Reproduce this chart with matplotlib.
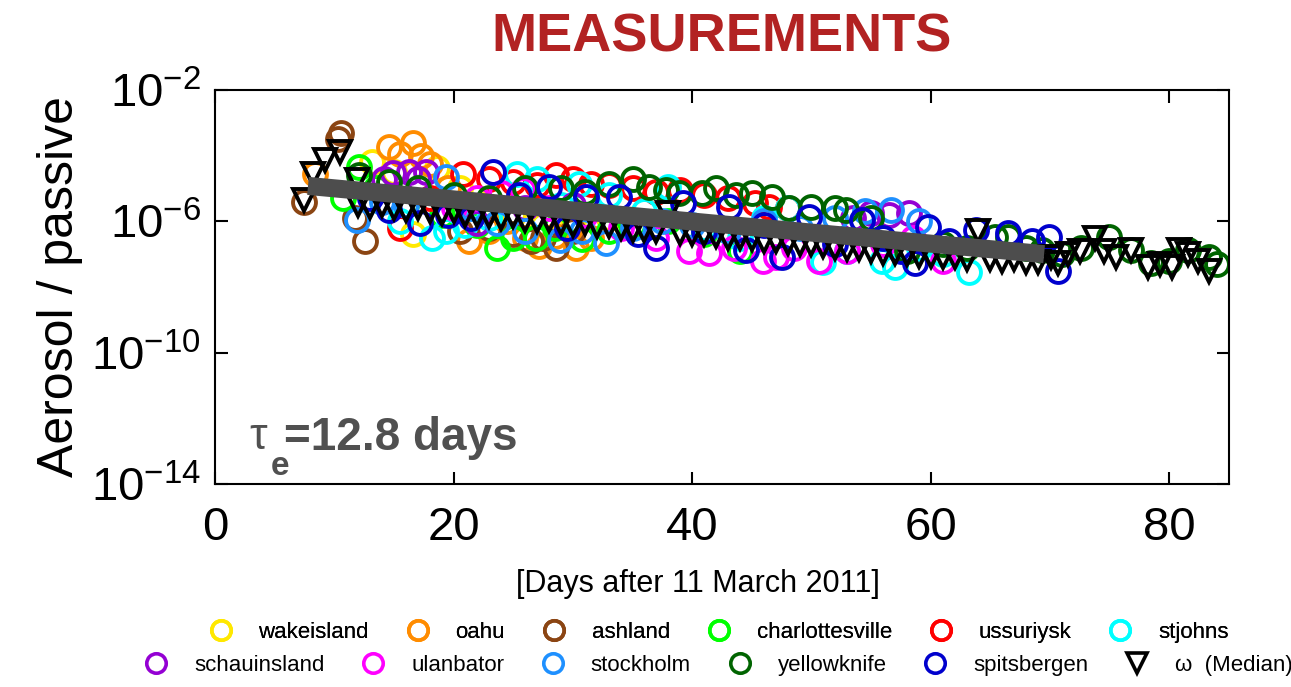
import numpy as np
import matplotlib.pyplot as plt
from matplotlib.lines import Line2D

plt.rcParams['font.family'] = ['Liberation Sans', 'DejaVu Sans']
plt.rcParams['mathtext.fontset'] = 'custom'
plt.rcParams['mathtext.rm'] = 'Liberation Sans'

# station data: days after 11 March 2011 and log10(aerosol / passive)
wake_d = [13.2, 15, 16.6, 18.6, 20.5, 22.5, 25, 27.5, 30, 33]
wake_v = [-4.2, -4.5, -6.4, -4.38, -5.0, -5.5, -5.8, -6.1, -6.0, -5.9]

oahu_d = [8.4, 14.6, 15.5, 16.6, 17.3, 18.0, 19.5, 21.3, 23, 24.5, 26, 27.2, 28.5, 30.3, 31.5]
oahu_v = [-4.55, -3.75, -3.95, -3.6, -4.0, -4.25, -5.0, -6.6, -6.3, -6.0, -6.5, -6.75, -6.45, -6.8, -6.5]

ashl_d = [7.5, 10.3, 10.6, 11.7, 12.6, 20.5, 23, 25, 26.5, 27.5, 28.6, 30]
ashl_v = [-5.4, -3.5, -3.3, -5.9, -6.6, -6.3, -6.2, -6.4, -6.6, -6.5, -6.8, -6.3]

char_d = [10.7, 12.1, 13.5, 16, 19, 22, 23.6, 25, 26.9, 28.5, 30.8, 33, 35, 38, 41, 44]
char_v = [-5.3, -4.35, -5.0, -5.5, -5.8, -6.1, -6.8, -6.5, -6.5, -6.2, -6.55, -6.3, -6.1, -6.0, -6.4, -6.9]

ussu_d = [15.5, 18, 20.8, 23, 25, 27, 28.6, 30, 31.5, 33, 35, 37, 39, 41, 43, 45.3, 46.4, 48]
ussu_v = [-6.2, -5.3, -4.55, -4.7, -4.8, -4.9, -4.6, -4.7, -4.85, -4.9, -5.0, -5.1, -5.05, -5.2, -5.3, -5.45, -5.57, -5.6]

stjo_d = [15.5, 18.2, 19.4, 21, 23, 25.3, 27, 29, 30.5, 33, 36, 38, 41, 44, 46, 48, 51, 53, 55.9, 57, 59, 61, 63.2]
stjo_v = [-6.0, -6.5, -6.3, -6.1, -5.9, -4.55, -4.7, -5.5, -4.85, -5.2, -5.7, -4.95, -6.2, -6.5, -5.9, -5.6, -7.25, -6.9, -7.2, -7.4, -6.8, -7.0, -7.55]

scha_d = [14.2, 14.9, 16.3, 17.0, 17.7, 22, 26, 30, 53.5, 55, 56.5, 58.2]
scha_v = [-4.7, -4.53, -4.5, -4.7, -4.5, -6.05, -5.6, -5.5, -5.9, -5.75, -5.8, -5.75]

ulan_d = [20, 22, 24, 25.8, 28, 31, 34, 37, 39.7, 41.4, 43.5, 45.9, 47, 48.5, 50.6, 53, 56, 58.5, 61]
ulan_v = [-5.6, -5.3, -5.15, -5.05, -5.6, -5.8, -6.2, -6.5, -6.9, -6.97, -6.8, -7.2, -7.1, -6.8, -7.2, -6.9, -6.7, -6.5, -7.2]

stoc_d = [11.9, 14, 16, 19.4, 21.5, 23.6, 26, 28.9, 30.8, 32.8, 35, 37.5, 40, 43, 46, 49, 52, 54.5, 56.7, 59]
stoc_v = [-5.96, -5.4, -5.5, -4.65, -5.6, -6.05, -6.3, -6.57, -6.3, -6.67, -6.2, -6.0, -6.1, -6.3, -6.0, -6.2, -5.9, -5.7, -5.66, -6.0]

yell_d = [12.1, 14.6, 17, 20, 23, 26, 29, 31, 33, 35, 36.4, 37.8, 38.9, 40.8, 42, 43.7, 45, 46.7, 48.1, 50,
          52, 52.9, 55, 58, 61, 63, 65.4, 66.5, 68, 69.3, 71, 72.6, 74.9, 76.8, 78.5, 80, 81.6, 83.3, 84]
yell_v = [-4.6, -4.8, -5.0, -5.2, -5.3, -5.0, -5.0, -5.1, -4.85, -4.7, -4.95, -5.05, -5.15, -5.15, -5.0, -5.2, -5.15, -5.27, -5.6, -5.55,
          -5.6, -5.66, -5.9, -6.9, -6.7, -6.8, -6.48, -6.48, -6.8, -6.88, -7.0, -6.8, -6.48, -6.88, -7.27, -7.2, -6.88, -7.1, -7.3]

spit_d = [13, 14.6, 17.2, 19.5, 21.5, 23.3, 25.5, 28, 29.5, 31.1, 33.9, 35.5, 37, 39.2, 41, 43.1, 44.5, 46, 47.5, 49.8,
          52, 54.2, 56, 57.5, 58.7, 59.8, 61.5, 63.8, 66.5, 68.5, 69.9, 70.7]
spit_v = [-5.3, -5.66, -6.05, -5.8, -5.9, -4.5, -5.2, -4.96, -6.2, -5.26, -5.26, -6.4, -6.8, -5.45, -6.3, -5.57, -6.88, -6.1, -7.1, -5.87,
          -6.7, -5.96, -6.5, -6.9, -7.27, -6.17, -6.6, -6.27, -6.36, -6.6, -6.48, -7.5]

# median over all stations
med_d = [7.5, 8.2, 9.2, 10.5, 11.9, 12, 13, 14, 15, 16, 17, 18, 19, 20, 21, 22, 23, 24, 25, 26, 27, 28, 29, 30,
         31, 32, 33, 34, 35, 36, 37, 38, 39, 40, 41, 42, 43, 44, 45, 46, 47, 48, 49, 50, 51, 52, 53, 54, 55, 56,
         57, 58, 59, 60, 61, 62, 63, 64, 65, 66, 67, 68, 69, 70.1, 70.7, 71.5, 72.5, 73.8, 74.5, 75.5, 76.8, 78.2,
         79.2, 80.2, 80.8, 81.6, 82.4, 83.3]
med_v = [-5.35, -4.55, -4.13, -3.9, -4.75, -5.5, -5.55, -5.5, -5.6, -5.65, -5.6, -5.7, -5.75, -5.7, -5.8, -5.8,
         -5.85, -5.9, -5.85, -5.95, -6.0, -5.95, -6.05, -6.1, -6.05, -6.15, -6.15, -6.2, -6.25, -6.25, -6.3, -5.75, -6.35,
         -6.4, -6.4, -6.45, -6.5, -6.5, -6.55, -6.6, -6.6, -6.65, -6.7, -6.7, -6.75, -6.8, -6.85, -6.85, -6.9,
         -6.95, -6.95, -7.0, -7.05, -7.05, -7.1, -7.1, -7.15, -6.3, -7.15, -7.2, -7.15, -7.25, -7.25, -7.1, -7.27, -7.0,
         -6.9, -6.5, -6.9, -7.1, -6.88, -7.4, -7.3, -7.4, -6.88, -7.0, -7.2, -7.5]

# exponential fit, tau_e = 12.8 days
fit_d = [7.8, 69.5]
fit_v = [1.2e-5, 1.0e-7]

names = ['wakeisland', 'oahu', 'ashland', 'charlottesville', 'ussuriysk', 'stjohns',
         'schauinsland', 'ulanbator', 'stockholm', 'yellowknife', 'spitsbergen']
colors = ['#ffe800', '#ff8c00', '#8b4513', '#00ff00', '#ff0000', '#00ffff',
          '#9400d3', '#ff00ff', '#1e90ff', '#006400', '#0000cd']
days = [wake_d, oahu_d, ashl_d, char_d, ussu_d, stjo_d, scha_d, ulan_d, stoc_d, yell_d, spit_d]
vals = [wake_v, oahu_v, ashl_v, char_v, ussu_v, stjo_v, scha_v, ulan_v, stoc_v, yell_v, spit_v]

fig = plt.figure(figsize=(12.91, 6.87), dpi=100)
ax = fig.add_axes([0.1665, 0.2955, 0.7855, 0.5735])

for d, v, c in zip(days, vals, colors):
    ax.plot(d, 10.0 ** np.array(v), 'o', ms=16.5, mfc='none', mec=c, mew=2.8)
ax.plot(med_d, 10.0 ** np.array(med_v), 'v', ms=16.5, mfc='none', mec='black', mew=2.8)
ax.plot(fit_d, fit_v, '-', color='#4d4d4d', lw=13, solid_capstyle='butt')

ax.set_yscale('log')
ax.set_xlim(0, 85)
ax.set_ylim(1e-14, 1e-2)
ax.set_yticks([1e-14, 1e-10, 1e-6, 1e-2])
ax.set_yticklabels([r'$10^{-14}$', r'$10^{-10}$', r'$10^{-6}$', r'$10^{-2}$'])
ax.minorticks_off()
ax.set_xticks([0, 20, 40, 60, 80])
ax.tick_params(direction='in', top=True, right=True, length=9, width=1.5, labelsize=34)
ax.tick_params(axis='x', pad=16)
ax.tick_params(axis='y', pad=10)
for s in ax.spines.values():
    s.set_linewidth(1.5)

ax.set_ylabel('Aerosol / passive', fontsize=36, labelpad=6)
ax.set_xlabel('[Days after 11 March 2011]', fontsize=22)
ax.xaxis.set_label_coords(0.476, -0.215)
ax.set_title('MEASUREMENTS', fontsize=39, fontweight='bold', color='#b22222', pad=28)

ax.text(0.034, 0.09, '\u03c4', transform=ax.transAxes, fontsize=32, color='#505050')
ax.text(0.055, 0.022, 'e', transform=ax.transAxes, fontsize=24, fontweight='bold', color='#505050')
ax.text(0.068, 0.086, '=12.8 days', transform=ax.transAxes, fontsize=33, fontweight='bold', color='#505050')

handles = [Line2D([], [], ls='none', marker='o', ms=14, mfc='none', mec=c, mew=2.6) for c in colors]
handles.append(Line2D([], [], ls='none', marker='v', ms=14, mfc='none', mec='black', mew=2.6))
labels = names + ['\u03c9  (Median)']

leg1 = fig.legend(handles[:6], labels[:6], ncol=6, loc='center', bbox_to_anchor=(0.556, 0.080),
                  frameon=False, fontsize=16, handlelength=1.2, handletextpad=1.1, columnspacing=1.6)
fig.add_artist(leg1)
fig.legend(handles[6:], labels[6:], ncol=6, loc='center', bbox_to_anchor=(0.556, 0.032),
           frameon=False, fontsize=16, handlelength=1.2, handletextpad=1.1, columnspacing=1.6)

fig.savefig('out.png', dpi=100)
